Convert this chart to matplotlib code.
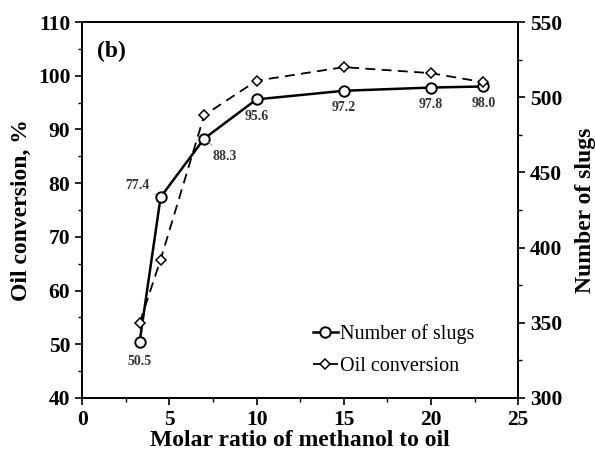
import matplotlib.pyplot as plt
from matplotlib.ticker import MultipleLocator

plt.rcParams['font.family'] = ['Liberation Serif', 'DejaVu Serif']

# data
molar_ratio = [3.3, 4.5, 7, 10, 15, 20, 23]
conversion = [50.5, 77.4, 88.3, 95.6, 97.2, 97.8, 98.0]
slugs = [350, 392, 488, 511, 520, 516, 510]
labels = ['50.5', '77.4', '88.3', '95.6', '97.2', '97.8', '98.0']

fig = plt.figure(figsize=(5.95, 4.59), dpi=100)
ax = fig.add_axes([0.138, 0.133, 0.733, 0.819])
ax2 = ax.twinx()

l1, = ax.plot(molar_ratio, conversion, '-o', color='black', lw=1.8,
              mfc='white', mec='black', ms=7.5, mew=1.4, zorder=3)
l2, = ax2.plot(molar_ratio, slugs, '--D', color='black', lw=1.3,
               mfc='white', mec='black', ms=5, mew=1.1, dashes=(5.5, 3.5))

# value labels (offsets in points)
offsets = [(0, -14), (-17, 8), (15, -13), (0, -12), (0, -12), (0, -12), (0, -12)]
for x, y, t, off in zip(molar_ratio, conversion, labels, offsets):
    arrow = None
    if t in ('77.4', '88.3'):
        arrow = dict(arrowstyle='-', color='#999999', lw=0.6, shrinkA=2, shrinkB=4)
    ax.annotate(t, (x, y), xytext=off, textcoords='offset points',
                ha='center', va='center', fontsize=10, fontweight='bold',
                color='#333333', arrowprops=arrow)

ax.set_xlim(0, 25)
ax.set_ylim(40, 110)
ax2.set_ylim(300, 550)
ax.xaxis.set_major_locator(MultipleLocator(5))
ax.xaxis.set_minor_locator(MultipleLocator(2.5))
ax.yaxis.set_major_locator(MultipleLocator(10))
ax.yaxis.set_minor_locator(MultipleLocator(5))
ax2.yaxis.set_major_locator(MultipleLocator(50))
ax2.yaxis.set_minor_locator(MultipleLocator(25))

for a in (ax, ax2):
    a.tick_params(which='major', direction='out', length=5, width=1.2, labelsize=15.5)
    a.tick_params(which='minor', direction='out', length=3, width=1)
    for s in a.spines.values():
        s.set_linewidth(1.3)
    for lab in a.get_xticklabels() + a.get_yticklabels():
        lab.set_fontweight('bold')

ax.set_xlabel('Molar ratio of methanol to oil', fontsize=17, fontweight='bold', labelpad=0)
ax.set_ylabel('Oil conversion, %', fontsize=17, fontweight='bold', labelpad=4)
ax2.set_ylabel('Number of slugs', fontsize=17, fontweight='bold', labelpad=9)
ax.text(0.035, 0.95, '(b)', transform=ax.transAxes, fontsize=17,
        fontweight='bold', va='top')

ax.legend([l1, l2], ['Number of slugs', 'Oil conversion'], loc='lower right',
          bbox_to_anchor=(0.94, 0.01), frameon=False, fontsize=14.5,
          handlelength=1.2, handletextpad=0.1, labelspacing=0.65)

fig.savefig('out.png', dpi=100)
